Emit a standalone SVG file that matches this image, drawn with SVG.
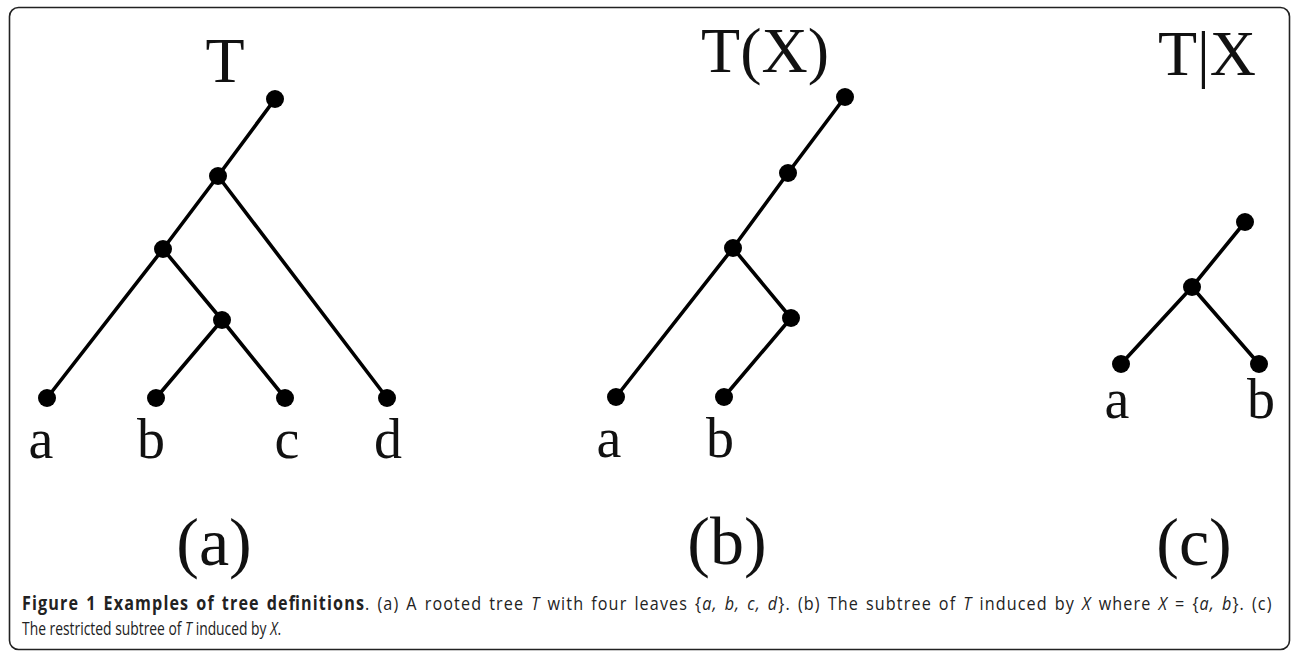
<svg xmlns="http://www.w3.org/2000/svg" width="1292" height="653" viewBox="0 0 1292 653">
<style>
.edge{stroke:#000;stroke-width:3.6;stroke-linecap:round}
.dot{fill:#000}
.lbl{font-family:"Liberation Serif","DejaVu Serif",serif;fill:#111;text-anchor:middle}
.leaf{font-size:56px}
.title{font-size:64px}
.sub{font-size:68px}
.cap{font-family:"Open Sans","Noto Sans",sans-serif;font-size:19px;fill:#222}
</style>
<rect x="9.5" y="7.5" width="1280" height="642" rx="9" fill="#fff" stroke="#222" stroke-width="1.6"/>
<g id="connectors">
<line class="edge" x1="275" y1="99" x2="218" y2="176"/>
<line class="edge" x1="218" y1="176" x2="163" y2="249"/>
<line class="edge" x1="218" y1="176" x2="387" y2="398"/>
<line class="edge" x1="163" y1="249" x2="47" y2="398"/>
<line class="edge" x1="163" y1="249" x2="222" y2="320"/>
<line class="edge" x1="222" y1="320" x2="156" y2="398"/>
<line class="edge" x1="222" y1="320" x2="285" y2="398"/>
<line class="edge" x1="845" y1="97" x2="788" y2="173"/>
<line class="edge" x1="788" y1="173" x2="733" y2="248"/>
<line class="edge" x1="733" y1="248" x2="616" y2="397"/>
<line class="edge" x1="733" y1="248" x2="791" y2="318"/>
<line class="edge" x1="791" y1="318" x2="724" y2="397"/>
<line class="edge" x1="1245" y1="222" x2="1192" y2="287"/>
<line class="edge" x1="1192" y1="287" x2="1121" y2="364"/>
<line class="edge" x1="1192" y1="287" x2="1259" y2="364"/>
</g>
<g id="treeA">
<text class="lbl title" x="225" y="82">T</text>
<circle class="dot" cx="275" cy="99" r="9"/>
<circle class="dot" cx="218" cy="176" r="9"/>
<circle class="dot" cx="163" cy="249" r="9"/>
<circle class="dot" cx="222" cy="320" r="9"/>
<circle class="dot" cx="47" cy="398" r="9"/>
<circle class="dot" cx="156" cy="398" r="9"/>
<circle class="dot" cx="285" cy="398" r="9"/>
<circle class="dot" cx="387" cy="398" r="9"/>
<text class="lbl leaf" x="41" y="458">a</text>
<text class="lbl leaf" x="151" y="458">b</text>
<text class="lbl leaf" x="287" y="458">c</text>
<text class="lbl leaf" x="388" y="458">d</text>
<text class="lbl sub" x="214" y="565">(a)</text>
</g>
<g id="treeB">
<text class="lbl title" x="765" y="72">T(X)</text>
<circle class="dot" cx="845" cy="97" r="9"/>
<circle class="dot" cx="788" cy="173" r="9"/>
<circle class="dot" cx="733" cy="248" r="9"/>
<circle class="dot" cx="791" cy="318" r="9"/>
<circle class="dot" cx="616" cy="397" r="9"/>
<circle class="dot" cx="724" cy="397" r="9"/>
<text class="lbl leaf" x="609" y="457">a</text>
<text class="lbl leaf" x="720" y="457">b</text>
<text class="lbl sub" x="727" y="564">(b)</text>
</g>
<g id="treeC">
<text class="lbl title" x="1207" y="75">T|X</text>
<circle class="dot" cx="1245" cy="222" r="9"/>
<circle class="dot" cx="1192" cy="287" r="9"/>
<circle class="dot" cx="1121" cy="364" r="9"/>
<circle class="dot" cx="1259" cy="364" r="9"/>
<text class="lbl leaf" x="1117" y="418">a</text>
<text class="lbl leaf" x="1261" y="418">b</text>
<text class="lbl sub" x="1194" y="565">(c)</text>
</g>
<g id="caption">
<text class="cap" transform="translate(22,610) scale(0.85,1)" x="0" y="0" word-spacing="2" textLength="1470" lengthAdjust="spacing"><tspan font-weight="bold">Figure 1 Examples of tree definitions</tspan>. (a) A rooted tree <tspan font-style="italic">T</tspan> with four leaves {<tspan font-style="italic">a, b, c, d</tspan>}. (b) The subtree of <tspan font-style="italic">T</tspan> induced by <tspan font-style="italic">X</tspan> where <tspan font-style="italic">X</tspan> = {<tspan font-style="italic">a, b</tspan>}. (c)</text>
<text class="cap" transform="translate(22,635) scale(0.73,1)" x="0" y="0">The restricted subtree of <tspan font-style="italic">T</tspan> induced by <tspan font-style="italic">X</tspan>.</text>
</g>
</svg>
